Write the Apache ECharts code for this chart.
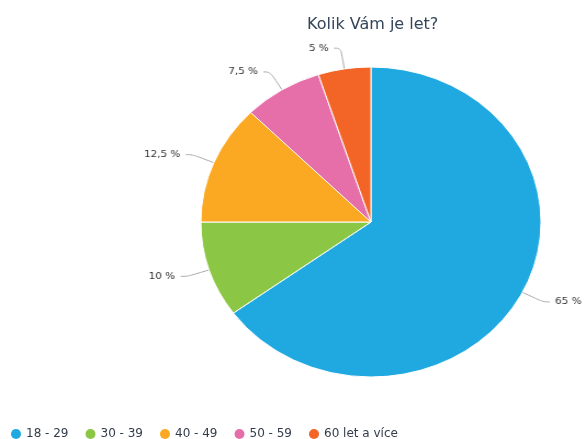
<!DOCTYPE html>
<html>
<head>
<meta charset="utf-8">
<script src="https://cdn.jsdelivr.net/npm/echarts@6/dist/echarts.min.js"></script>
<style>
  html, body { margin: 0; padding: 0; background: #fff; }
  #wrap { position: relative; width: 586px; height: 439px; overflow: hidden; }
  /* the reference pie is a slightly stretched ellipse */
  #pie { position: absolute; left: 0; top: 0; width: 586px; height: 439px;
         transform: scaleX(1.0974); transform-origin: 0 0; }
  #main { position: absolute; left: 0; top: 0; width: 586px; height: 439px; }
</style>
</head>
<body>
<div id="wrap">
  <div id="pie"></div>
  <div id="main"></div>
</div>
<script>
  const categories = ['18 - 29', '30 - 39', '40 - 49', '50 - 59', '60 let a více'];
  const values = [65, 10, 12.5, 7.5, 5];
  const colors = ['#20a9e1', '#8cc645', '#fba922', '#e66faa', '#f26526'];

  const pieData = categories.map((name, i) => ({ value: values[i], name: name }));
  const fmt = p => String(p.value).replace('.', ',') + ' %';

  // pie chart (horizontally stretched)
  const pieChart = echarts.init(document.getElementById('pie'));
  pieChart.setOption({
    animation: false,
    color: colors,
    series: [{
      type: 'pie',
      center: [338, 222],
      radius: 155,
      startAngle: 90,
      clockwise: true,
      itemStyle: { borderColor: '#fff', borderWidth: 1 },
      label: {
        show: true,
        formatter: fmt,
        overflow: 'none',
        fontFamily: 'DejaVu Sans',
        fontSize: 9.5,
        color: '#333'
      },
      labelLine: {
        show: true,
        length: 21,
        length2: 6,
        smooth: 0.4,
        lineStyle: { color: '#a8a8a8', width: 1 }
      },
      emphasis: { disabled: true },
      data: pieData
    }]
  });

  // title and legend (not stretched)
  const mainChart = echarts.init(document.getElementById('main'));
  mainChart.setOption({
    animation: false,
    color: colors,
    title: {
      text: 'Kolik Vám je let?',
      left: 302,
      top: 12,
      textStyle: { fontFamily: 'DejaVu Sans', fontSize: 16, fontWeight: 'normal', color: '#34455a' }
    },
    legend: {
      data: categories,
      left: 6,
      top: 423,
      icon: 'circle',
      itemWidth: 10,
      itemHeight: 10,
      itemGap: 17,
      textStyle: { fontFamily: 'DejaVu Sans', fontSize: 12, color: '#333d4a' }
    },
    series: [{
      type: 'pie',
      radius: [0, 0],
      silent: true,
      label: { show: false },
      labelLine: { show: false },
      data: pieData
    }]
  });
</script>
</body>
</html>
